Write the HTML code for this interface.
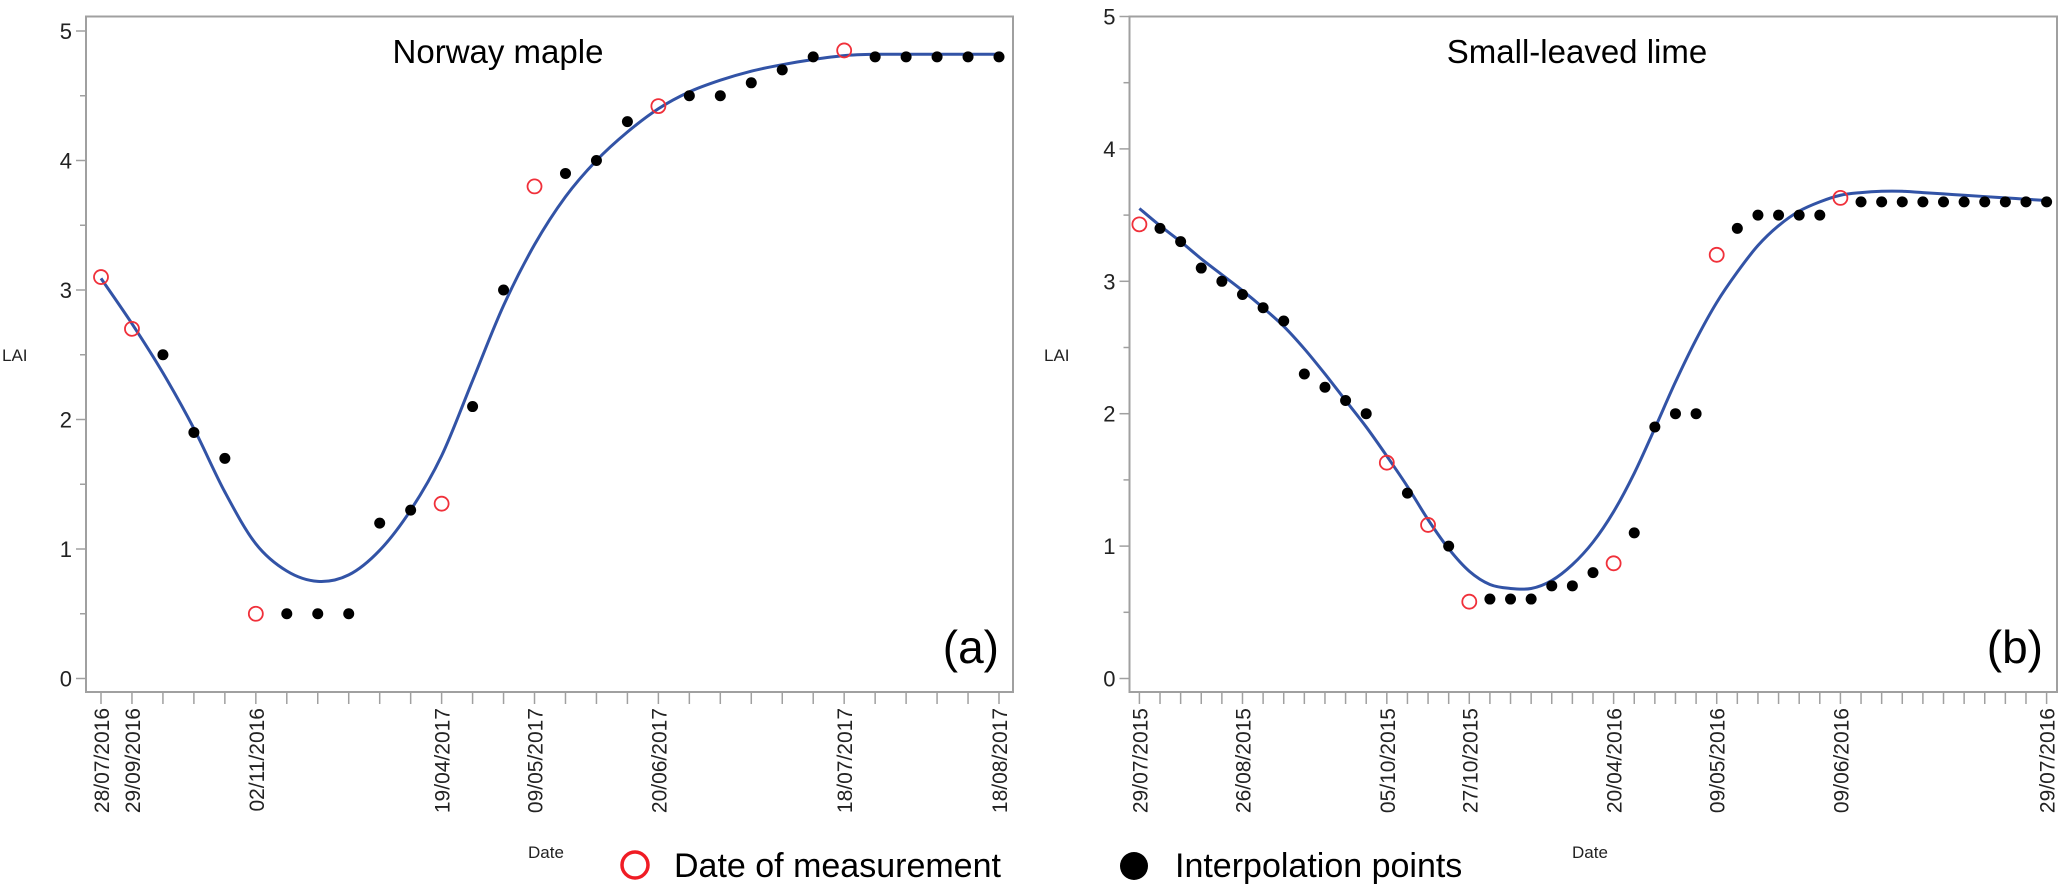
<!DOCTYPE html>
<html><head><meta charset="utf-8"><style>
html,body{margin:0;padding:0;background:#fff;}
svg{display:block;font-family:"Liberation Sans",sans-serif;}
</style></head><body>
<svg id="chart" width="2067" height="889" viewBox="0 0 2067 889" xmlns="http://www.w3.org/2000/svg"></svg>
<script>
// ---- Panel (a) Norway maple data ----
const aTickLabels = ["28/07/2016","29/09/2016","02/11/2016","19/04/2017","09/05/2017","20/06/2017","18/07/2017","18/08/2017"];
const aTickLabelIdx = [0,1,5,11,14,18,24,29];
const aMeasIdx = [0,1,5,11,14,18,24];
const aMeasVal = [3.1,2.7,0.5,1.35,3.8,4.42,4.85];
const aInterpIdx = [2,3,4,6,7,8,9,10,12,13,15,16,17,19,20,21,22,23,25,26,27,28,29];
const aInterpVal = [2.5,1.9,1.7,0.5,0.5,0.5,1.2,1.3,2.1,3.0,3.9,4.0,4.3,4.5,4.5,4.6,4.7,4.8,4.8,4.8,4.8,4.8,4.8];
const aCurve = [3.09,2.74,2.36,1.93,1.44,1.04,0.83,0.75,0.8,0.99,1.3,1.72,2.3,2.88,3.35,3.72,4.0,4.22,4.4,4.53,4.62,4.69,4.74,4.78,4.81,4.82,4.82,4.82,4.82,4.82];
// ---- Panel (b) Small-leaved lime data ----
const bTickLabels = ["29/07/2015","26/08/2015","05/10/2015","27/10/2015","20/04/2016","09/05/2016","09/06/2016","29/07/2016"];
const bTickLabelIdx = [0,5,12,16,23,28,34,44];
const bMeasIdx = [0,12,14,16,23,28,34];
const bMeasVal = [3.43,1.63,1.16,0.58,0.87,3.2,3.63];
const bInterpIdx = [1,2,3,4,5,6,7,8,9,10,11,13,15,17,18,19,20,21,22,24,25,26,27,29,30,31,32,33,35,36,37,38,39,40,41,42,43,44];
const bInterpVal = [3.4,3.3,3.1,3.0,2.9,2.8,2.7,2.3,2.2,2.1,2.0,1.4,1.0,0.6,0.6,0.6,0.7,0.7,0.8,1.1,1.9,2.0,2.0,3.4,3.5,3.5,3.5,3.5,3.6,3.6,3.6,3.6,3.6,3.6,3.6,3.6,3.6,3.6];
const bCurve = [3.55,3.42,3.3,3.17,3.05,2.93,2.8,2.66,2.49,2.3,2.1,1.9,1.68,1.45,1.2,0.98,0.81,0.71,0.68,0.68,0.74,0.86,1.03,1.26,1.55,1.89,2.24,2.56,2.84,3.07,3.27,3.42,3.53,3.6,3.65,3.67,3.68,3.68,3.67,3.66,3.65,3.64,3.63,3.62,3.61];
const yTicks = [0,1,2,3,4,5];

const NS = "http://www.w3.org/2000/svg";
const svg = document.getElementById("chart");
function mk(tag, attrs, parent){const e=document.createElementNS(NS,tag);for(const k in attrs)e.setAttribute(k,attrs[k]);(parent||svg).appendChild(e);return e;}

function panel(cfg){
  const g = mk("g",{});
  
  
  const n = cfg.curve.length;
  const xS = i => cfg.x0 + (cfg.x1 - cfg.x0) * i / (n - 1);
  const yS = v => cfg.yZero - v * cfg.yUnit;
  const frame = mk("rect",{x:cfg.fl,y:16.5,width:cfg.fr-cfg.fl,height:692-16.5,fill:"none",stroke:"#a0a0a0","stroke-width":2},g);
  
  
  for(let k=0;k<=10;k++){
    const v=k/2, y=yS(v), major=k%2===0;
    const t = mk("line",{x1:cfg.fl-(major?10:6),x2:cfg.fl,y1:y,y2:y,stroke:"#a0a0a0","stroke-width":1.5},g);
    
    
  }
  yTicks.forEach(v=>{
    const t = mk("text",{x:cfg.fl-14,y:yS(v)+8,"text-anchor":"end","font-size":22,fill:"#222"},g);
    t.textContent=v;
    
    
  });
  const yl = mk("text",{x:cfg.laiX,y:361,"font-size":17,fill:"#222"},g);
  yl.textContent="LAI";
  
  
  for(let i=0;i<n;i++){
    const t = mk("line",{x1:xS(i),x2:xS(i),y1:692,y2:704,stroke:"#a0a0a0","stroke-width":1.5},g);
    
    
  }
  cfg.tickLabels.forEach((s,j)=>{
    const x=xS(cfg.tickIdx[j])+8;
    const t = mk("text",{x:x,y:708,"text-anchor":"end","font-size":21,fill:"#222",transform:`rotate(-90 ${x} 708)`},g);
    t.textContent=s;
    
    
  });
  const xl = mk("text",{x:cfg.dateX,y:858,"text-anchor":"middle","font-size":17,fill:"#222"},g);
  xl.textContent="Date";
  
  
  const title = mk("text",{x:cfg.titleX,y:63,"text-anchor":"middle","font-size":33,fill:"#000"},g);
  title.textContent=cfg.title;
  
  
  const lab = mk("text",{x:cfg.fr-14,y:663,"text-anchor":"end","font-size":46,fill:"#000"},g);
  lab.textContent=cfg.letter;
  
  
  const pts = cfg.curve.map((v,i)=>[xS(i),yS(v)]);
  let d=`M${pts[0][0]},${pts[0][1]}`;
  for(let i=0;i<pts.length-1;i++){
    const p0=pts[Math.max(0,i-1)],p1=pts[i],p2=pts[i+1],p3=pts[Math.min(pts.length-1,i+2)];
    d+=` C${p1[0]+(p2[0]-p0[0])/6},${p1[1]+(p2[1]-p0[1])/6} ${p2[0]-(p3[0]-p1[0])/6},${p2[1]-(p3[1]-p1[1])/6} ${p2[0]},${p2[1]}`;
  }
  const path = mk("path",{d:d,fill:"none",stroke:"#3253a6","stroke-width":3},g);
  
  
  cfg.interpIdx.forEach((i,j)=>{
    const c = mk("circle",{cx:xS(i),cy:yS(cfg.interpVal[j]),r:5.5,fill:"#000"},g);
    
    
  });
  cfg.measIdx.forEach((i,j)=>{
    const c = mk("circle",{cx:xS(i),cy:yS(cfg.measVal[j]),r:7,fill:"none",stroke:"#f0303a","stroke-width":1.8},g);
    
    
  });
}

panel({name:"panel-norway-maple",title:"Norway maple",letter:"(a)",fl:86,fr:1013,x0:101,x1:999,yZero:678.5,yUnit:129.5,
  curve:aCurve,tickLabels:aTickLabels,tickIdx:aTickLabelIdx,measIdx:aMeasIdx,measVal:aMeasVal,interpIdx:aInterpIdx,interpVal:aInterpVal,
  titleX:498,dateX:546,laiX:2});
panel({name:"panel-small-leaved-lime",title:"Small-leaved lime",letter:"(b)",fl:1129.5,fr:2057,x0:1139.4,x1:2046.6,yZero:678.5,yUnit:132.4,
  curve:bCurve,tickLabels:bTickLabels,tickIdx:bTickLabelIdx,measIdx:bMeasIdx,measVal:bMeasVal,interpIdx:bInterpIdx,interpVal:bInterpVal,
  titleX:1577,dateX:1590,laiX:1044});

const lg = mk("g",{});


const l1 = mk("circle",{cx:635,cy:865,r:13,fill:"none",stroke:"#f01c24","stroke-width":3.5},lg);


const t1 = mk("text",{x:674,y:877,"font-size":34,fill:"#000"},lg);
t1.textContent="Date of measurement";


const l2 = mk("circle",{cx:1134,cy:866,r:14,fill:"#000"},lg);


const t2 = mk("text",{x:1175,y:877,"font-size":34,fill:"#000"},lg);
t2.textContent="Interpolation points";


</script>
</body></html>
